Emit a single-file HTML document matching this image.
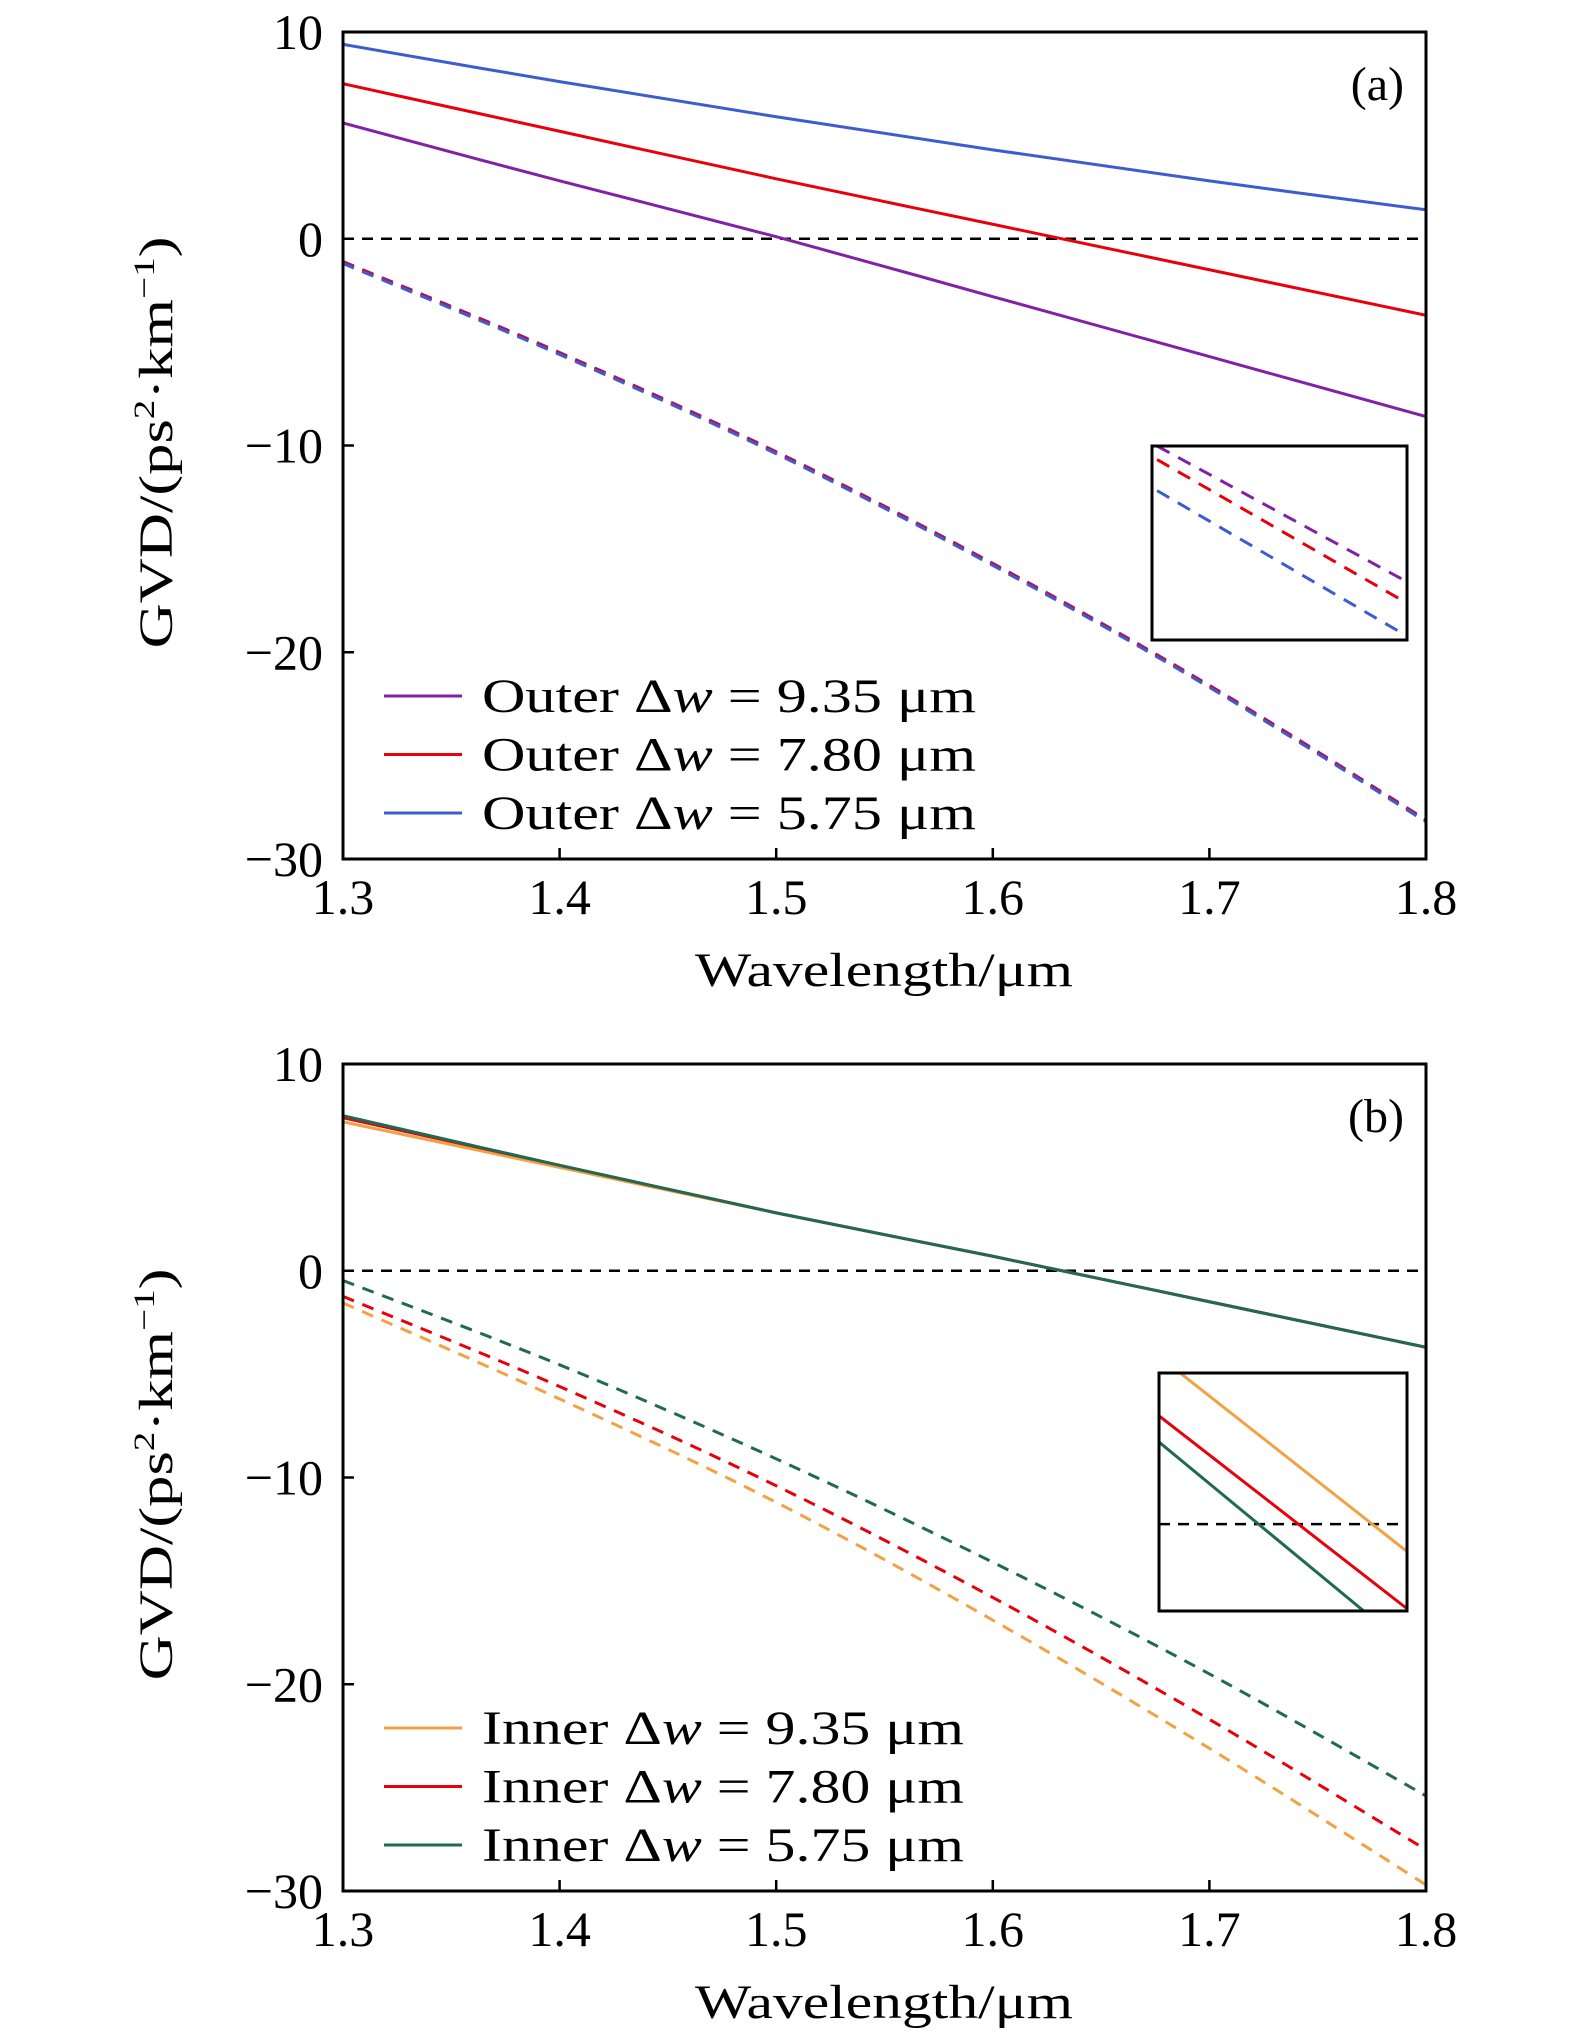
<!DOCTYPE html>
<html><head><meta charset="utf-8"><style>
html,body{margin:0;padding:0;background:#fff;}
svg{display:block;}
svg text{font-family:"Liberation Serif",serif;font-weight:normal;}
</style></head><body>
<svg id="chart" width="1575" height="2037" viewBox="0 0 1575 2037" xmlns="http://www.w3.org/2000/svg"></svg>
<script>
const wavelengths = [1.3,1.4,1.5,1.6,1.7,1.8];
const xTicks = [1.3,1.4,1.5,1.6,1.7,1.8];
const yTicks = [10,0,-10,-20,-30];
const xTickLabels = ["1.3","1.4","1.5","1.6","1.7","1.8"];
const yTickLabels = ["10","0","\u221210","\u221220","\u221230"];
// panel a
const outer935Solid = [5.6,2.8,0.1,-2.8,-5.7,-8.6];
const outer780Solid = [7.5,5.2,2.9,0.7,-1.5,-3.7];
const outer575Solid = [9.4,7.6,5.9,4.3,2.8,1.4];
const outer935Dash = [-1.1,-5.5,-10.3,-15.7,-21.6,-28.1];
const outer780Dash = [-1.15,-5.55,-10.35,-15.75,-21.65,-28.15];
const outer575Dash = [-1.2,-5.6,-10.4,-15.8,-21.7,-28.2];
// panel b
const inner935Solid = [7.2,5.0,2.8,0.7,-1.5,-3.7];
const inner780Solid = [7.4,5.1,2.8,0.7,-1.5,-3.7];
const inner575Solid = [7.5,5.1,2.8,0.7,-1.5,-3.7];
const inner935Dash = [-1.56,-6.2,-11.2,-16.9,-23.1,-29.7];
const inner780Dash = [-1.24,-5.6,-10.4,-15.8,-21.7,-28.0];
const inner575Dash = [-0.47,-4.55,-9.1,-14.1,-19.5,-25.4];
// insets (normalized 0..1 inset coords)
const insetAX = [0.02,1];
const insetA935 = [1.0,0.30];
const insetA780 = [0.93,0.19];
const insetA575 = [0.77,0.02];
const insetBXOrange = [0.085,1];
const insetBOrange = [1.0,0.25];
const insetBX = [0,1];
const insetBRed = [0.82,0.01];
const insetBGreen = [0.71,-0.15];
const insetBZero = 0.365;

const svg = document.getElementById('chart');
const NS = 'http://www.w3.org/2000/svg';
function mk(tag, attrs, parent){const e=document.createElementNS(NS,tag);for(const k in attrs)e.setAttribute(k,attrs[k]);(parent||svg).appendChild(e);return e;}
function smooth(pts){
  let d='M'+pts[0][0]+','+pts[0][1];
  for(let i=0;i<pts.length-1;i++){
    const p0=pts[Math.max(0,i-1)],p1=pts[i],p2=pts[i+1],p3=pts[Math.min(pts.length-1,i+2)];
    const c1=[p1[0]+(p2[0]-p0[0])/6,p1[1]+(p2[1]-p0[1])/6];
    const c2=[p2[0]-(p3[0]-p1[0])/6,p2[1]-(p3[1]-p1[1])/6];
    d+=' C'+c1[0]+','+c1[1]+' '+c2[0]+','+c2[1]+' '+p2[0]+','+p2[1];
  }
  return d;
}

const C = {purple:'#7f22a6',red:'#e8000b',blue:'#3d5ccf',orange:'#f2a244',green:'#1e6b52'};

function panel(id, top, legendPrefix, series, label, legendLines, inset){
  const L=343,R=1426,T=top,B=top+827;
  const g=mk('g',{});
  
  
  const xs=v=>L+(v-1.3)/0.5*(R-L);
  const ys=v=>T+(10-v)/40*(B-T);
  const clipId='clip'+id;
  const cp=mk('clipPath',{id:clipId},g); mk('rect',{x:L,y:T,width:R-L,height:B-T},cp);
  const z=mk('line',{x1:L,x2:R,y1:ys(0),y2:ys(0),stroke:'#000','stroke-width':2.5,'stroke-dasharray':'11 8'},g);
  
  
  const sg=mk('g',{'clip-path':'url(#'+clipId+')'},g);
  series.forEach(s=>{
    const p=mk('path',{d:smooth(wavelengths.map((w,i)=>[xs(w),ys(s.v[i])])),fill:'none',stroke:s.c,'stroke-width':3,'stroke-dasharray':s.d?'12 9':'none'},sg);
    
    
  });
  const fr=mk('rect',{x:L,y:T,width:R-L,height:B-T,fill:'none',stroke:'#000','stroke-width':3},g);
  
  
  xTicks.forEach((t,i)=>{
    mk('line',{x1:xs(t),x2:xs(t),y1:B,y2:B-11,stroke:'#000','stroke-width':2.5},g);
    const tx=mk('text',{x:xs(t),y:B+55,'text-anchor':'middle','font-size':50},g);
    tx.textContent=xTickLabels[i];
    
    
  });
  yTicks.forEach((t,i)=>{
    mk('line',{x1:L,x2:L+11,y1:ys(t),y2:ys(t),stroke:'#000','stroke-width':2.5},g);
    const tx=mk('text',{x:L-20,y:ys(t)+17,'text-anchor':'end','font-size':50},g);
    tx.textContent=yTickLabels[i];
    
    
  });
  const xt=mk('text',{x:884,y:B+127,'text-anchor':'middle','font-size':48,textLength:378,lengthAdjust:'spacingAndGlyphs'},g);
  xt.textContent='Wavelength/\u03bcm';
  
  
  const cy=(T+B)/2-3;
  const yt=mk('text',{x:0,y:0,'text-anchor':'middle','font-size':48,transform:'translate(172,'+cy+') rotate(-90)',textLength:412,lengthAdjust:'spacingAndGlyphs'},g);
  yt.innerHTML='GVD/(ps<tspan font-size="30" dy="-18">2</tspan><tspan dy="18">\u00b7km</tspan><tspan font-size="30" dy="-18">\u22121</tspan><tspan dy="18">)</tspan>';
  
  
  const pl=mk('text',{x:1404,y:T+68,'text-anchor':'end','font-size':48},g);
  pl.textContent=label;
  
  
  legendLines.forEach((lg,i)=>{
    const y=T+664+i*58.5;
    const ln=mk('line',{x1:384,x2:462,y1:y,y2:y,stroke:lg.c,'stroke-width':3},g);
    
    
    const t=mk('text',{x:482,y:y+16,'font-size':48,textLength:lg.w,lengthAdjust:'spacingAndGlyphs'},g);
    t.innerHTML=legendPrefix+' \u0394<tspan font-style="italic">w</tspan> = '+lg.t+' \u03bcm';
    
    
  });
  const I=inset;
  const ig=mk('g',{},g);
  
  
  const icp=mk('clipPath',{id:clipId+'i'},ig); mk('rect',{x:I.x,y:I.y,width:I.w,height:I.h},icp);
  const ix=v=>I.x+v*I.w, iy=v=>I.y+(1-v)*I.h;
  const ic=mk('g',{'clip-path':'url(#'+clipId+'i)'},ig);
  if(I.zero!==undefined){mk('line',{x1:I.x,x2:I.x+I.w,y1:iy(I.zero),y2:iy(I.zero),stroke:'#000','stroke-width':2.5,'stroke-dasharray':'11 8'},ic);}
  I.lines.forEach(s=>{
    const p=mk('polyline',{points:s.x.map((v,i)=>ix(v)+','+iy(s.v[i])).join(' '),fill:'none',stroke:s.c,'stroke-width':3,'stroke-dasharray':s.d?'14 10':'none'},ic);
    
    
  });
  mk('rect',{x:I.x,y:I.y,width:I.w,height:I.h,fill:'none',stroke:'#000','stroke-width':3},ig);
}

panel('a',32,'Outer',[
  {n:'outer-9.35-dashed',c:C.purple,v:outer935Dash,d:1},
  {n:'outer-7.80-dashed',c:C.red,v:outer780Dash,d:1},
  {n:'outer-5.75-dashed',c:C.blue,v:outer575Dash,d:1},
  {n:'outer-9.35-solid',c:C.purple,v:outer935Solid},
  {n:'outer-7.80-solid',c:C.red,v:outer780Solid},
  {n:'outer-5.75-solid',c:C.blue,v:outer575Solid}
],'(a)',[
  {c:C.purple,t:'9.35',w:494},{c:C.red,t:'7.80',w:494},{c:C.blue,t:'5.75',w:494}
],{x:1152,y:446,w:255,h:194,lines:[
  {x:insetAX,v:insetA935,c:C.purple,d:1},{x:insetAX,v:insetA780,c:C.red,d:1},{x:insetAX,v:insetA575,c:C.blue,d:1}]});

panel('b',1064,'Inner',[
  {n:'inner-9.35-dashed',c:C.orange,v:inner935Dash,d:1},
  {n:'inner-7.80-dashed',c:C.red,v:inner780Dash,d:1},
  {n:'inner-5.75-dashed',c:C.green,v:inner575Dash,d:1},
  {n:'inner-9.35-solid',c:C.orange,v:inner935Solid},
  {n:'inner-7.80-solid',c:C.red,v:inner780Solid},
  {n:'inner-5.75-solid',c:C.green,v:inner575Solid}
],'(b)',[
  {c:C.orange,t:'9.35',w:482},{c:C.red,t:'7.80',w:482},{c:C.green,t:'5.75',w:482}
],{x:1159,y:1373,w:248,h:238,zero:insetBZero,lines:[
  {x:insetBXOrange,v:insetBOrange,c:C.orange},{x:insetBX,v:insetBRed,c:C.red},{x:insetBX,v:insetBGreen,c:C.green}]});
</script>
</body></html>
